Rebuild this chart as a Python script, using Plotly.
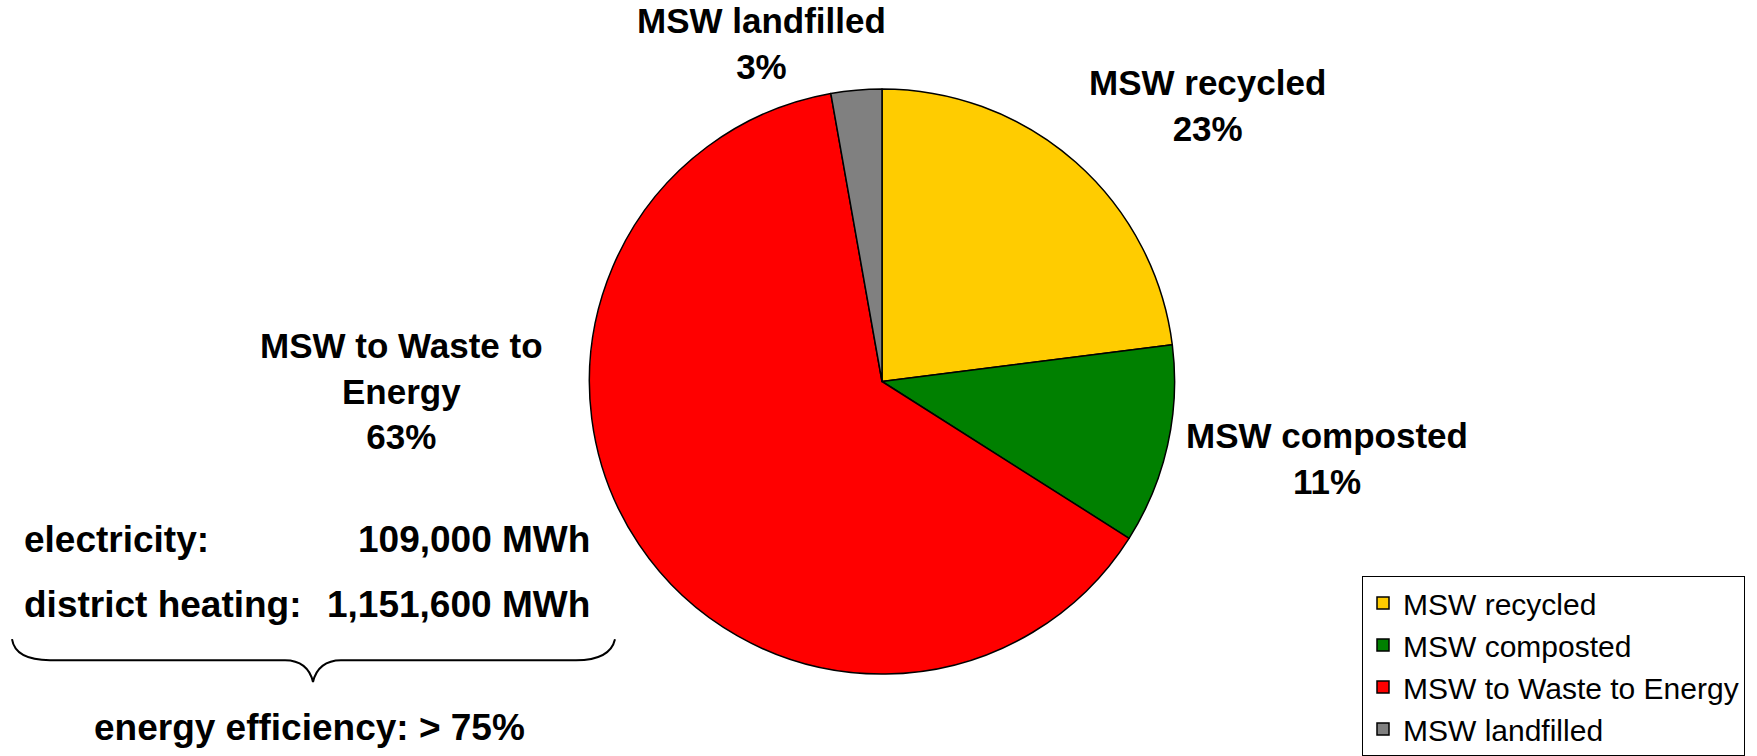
import plotly.graph_objects as go

W, H = 1757, 756

# slice data (clockwise from 12 o'clock)
categories = ["MSW recycled", "MSW composted", "MSW to Waste to Energy", "MSW landfilled"]
shares = [23.0, 11.0, 63.2, 2.8]
colors = ["#FFCC00", "#008000", "#FF0000", "#808080"]

# label text shown beside each slice
label_lines = ["MSW recycled", "MSW composted", "MSW to Waste to<br>Energy", "MSW landfilled"]

energy_rows = ["electricity:", "district heating:"]
energy_values = ["109,000 MWh", "1,151,600 MWh"]
efficiency_text = "energy efficiency: > 75%"

FONT = "Liberation Sans, Arial, sans-serif"


def px(x, y):
    """pixel position -> paper fraction"""
    return x / W, 1 - y / H


fig = go.Figure(
    go.Pie(
        labels=categories,
        values=shares,
        sort=False,
        direction="clockwise",
        rotation=0,
        marker=dict(colors=colors, line=dict(color="black", width=1.5)),
        textinfo="none",
        hoverinfo="label+percent",
        domain=dict(x=[(882 - 293) / W, (882 + 293) / W],
                    y=[(H - 382 - 293) / H, (H - 382 + 293) / H]),
    )
)

# slice labels
label_pos = [(1207, 106), (1327, 459), (401, 392), (761, 44)]
total = sum(shares)
for text, v, (lx, ly) in zip(label_lines, shares, label_pos):
    x, y = px(lx, ly)
    fig.add_annotation(
        x=x, y=y, xref="paper", yref="paper", showarrow=False,
        xanchor="center", yanchor="middle", align="center",
        text=f"{text}<br>{round(v / total * 100)}%",
        font=dict(family=FONT, size=35, color="black", weight="bold"),
    )

# energy output block
for i, (name, val) in enumerate(zip(energy_rows, energy_values)):
    yy = 540 + i * 65
    x, y = px(22, yy)
    fig.add_annotation(x=x, y=y, xref="paper", yref="paper", showarrow=False,
                       xanchor="left", yanchor="middle", text=name,
                       font=dict(family=FONT, size=37, color="black", weight="bold"))
    x, y = px(592, yy)
    fig.add_annotation(x=x, y=y, xref="paper", yref="paper", showarrow=False,
                       xanchor="right", yanchor="middle", text=val,
                       font=dict(family=FONT, size=37, color="black", weight="bold"))

x, y = px(309, 728)
fig.add_annotation(x=x, y=y, xref="paper", yref="paper", showarrow=False,
                   xanchor="center", yanchor="middle", text=efficiency_text,
                   font=dict(family=FONT, size=37, color="black", weight="bold"))

# curly brace under the energy numbers
pts = [
    ("M", [(12, 640)]),
    ("C", [(14, 653), (25, 661), (50, 661)]),
    ("L", [(285, 661)]),
    ("C", [(300, 661), (310, 669), (313, 683)]),
    ("C", [(316, 669), (326, 661), (341, 661)]),
    ("L", [(576, 661)]),
    ("C", [(601, 661), (612, 653), (615, 640)]),
]
path = ""
for cmd, coords in pts:
    path += cmd + " ".join("%.5f,%.5f" % px(a, b) for a, b in coords) + " "
fig.add_shape(type="path", path=path.strip(), xref="paper", yref="paper",
              line=dict(color="black", width=2))

fig.update_layout(
    width=W,
    height=H,
    margin=dict(l=0, r=0, t=0, b=0),
    paper_bgcolor="white",
    plot_bgcolor="white",
    showlegend=True,
    legend=dict(
        x=1362 / W, y=1 - 577 / H, xanchor="left", yanchor="top",
        bordercolor="black", borderwidth=1, bgcolor="white",
        font=dict(family=FONT, size=30, color="black"),
    ),
)

fig.write_html(
    "out.html",
    config={"displayModeBar": False},
    post_script="document.body.style.margin='0';document.body.style.overflow='hidden';",
)
